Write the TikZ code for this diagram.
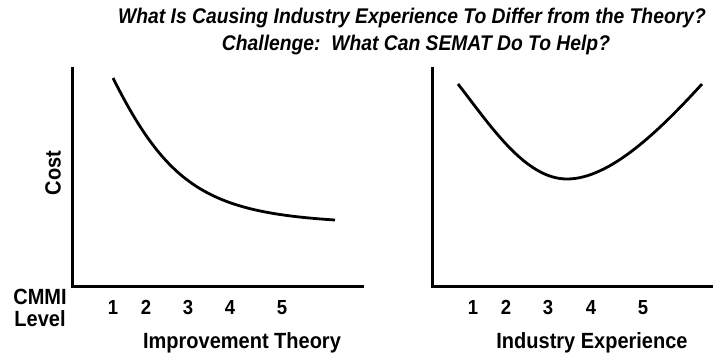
\documentclass[tikz,border=0pt]{standalone}
\usepackage{fontspec}
\usepackage{graphicx}
\setmainfont{Liberation Sans}
\newcommand{\tallr}[1]{\scalebox{1}[1.1]{#1}}
\begin{document}
\begin{tikzpicture}[x=1pt,y=-1pt,
  axis/.style={line width=3pt},
  curve/.style={line width=2.8pt},
  title/.style={font=\fontsize{19.3}{22}\selectfont\bfseries\itshape, inner sep=0pt},
  lbl/.style={font=\fontsize{20}{22}\selectfont\bfseries, inner sep=0pt},
  num/.style={font=\fontsize{18.5}{22}\selectfont\bfseries, inner sep=0pt, anchor=base}]
\useasboundingbox[fill=white] (0,0) rectangle (713,354);
% titles
\node[title] (t1) at (412,18) {\tallr{What Is Causing Industry Experience To Differ from the Theory?}};
\node[title] (t2) at (416,45) {\tallr{Challenge:\ \ What Can SEMAT Do To Help?}};
% left chart axes
\coordinate (ltop) at (72,67);
\coordinate (lorig) at (72,286);
\coordinate (lend) at (364,286);
\draw[axis] (ltop) -- (lorig) -- (lend);
% right chart axes
\coordinate (rtop) at (432,67);
\coordinate (rorig) at (432,286);
\coordinate (rend) at (713,286);
\draw[axis] (rtop) -- (rorig) -- (rend);
% left curve
\coordinate (la) at (113,78);
\coordinate (lb) at (335,220);
\draw[curve] (la) .. controls (168,188) and (210,212) .. (lb);
% right curve
\coordinate (ra) at (458,84);
\coordinate (rm) at (567,179);
\coordinate (rb) at (702,84);
\draw[curve] (ra) .. controls (490,125) and (525,179) .. (rm)
  .. controls (610,179) and (660,130) .. (rb);
% labels
\node[lbl, rotate=90] (cost) at (53,173) {\tallr{Cost}};
\node[lbl] (cmmi) at (40,297) {\tallr{CMMI}};
\node[lbl] (level) at (40,319) {\tallr{Level}};
\node[num] (l1) at (113,314) {\tallr{1}};
\node[num] (l2) at (146,314) {\tallr{2}};
\node[num] (l3) at (188,314) {\tallr{3}};
\node[num] (l4) at (230,314) {\tallr{4}};
\node[num] (l5) at (282,314) {\tallr{5}};
\node[num] (r1) at (473,314) {\tallr{1}};
\node[num] (r2) at (506,314) {\tallr{2}};
\node[num] (r3) at (548,314) {\tallr{3}};
\node[num] (r4) at (591,314) {\tallr{4}};
\node[num] (r5) at (643,314) {\tallr{5}};
\node[lbl] (lt) at (242,343) {\tallr{Improvement Theory}};
\node[lbl] (rt) at (592,343) {\tallr{Industry Experience}};
\end{tikzpicture}
\end{document}
